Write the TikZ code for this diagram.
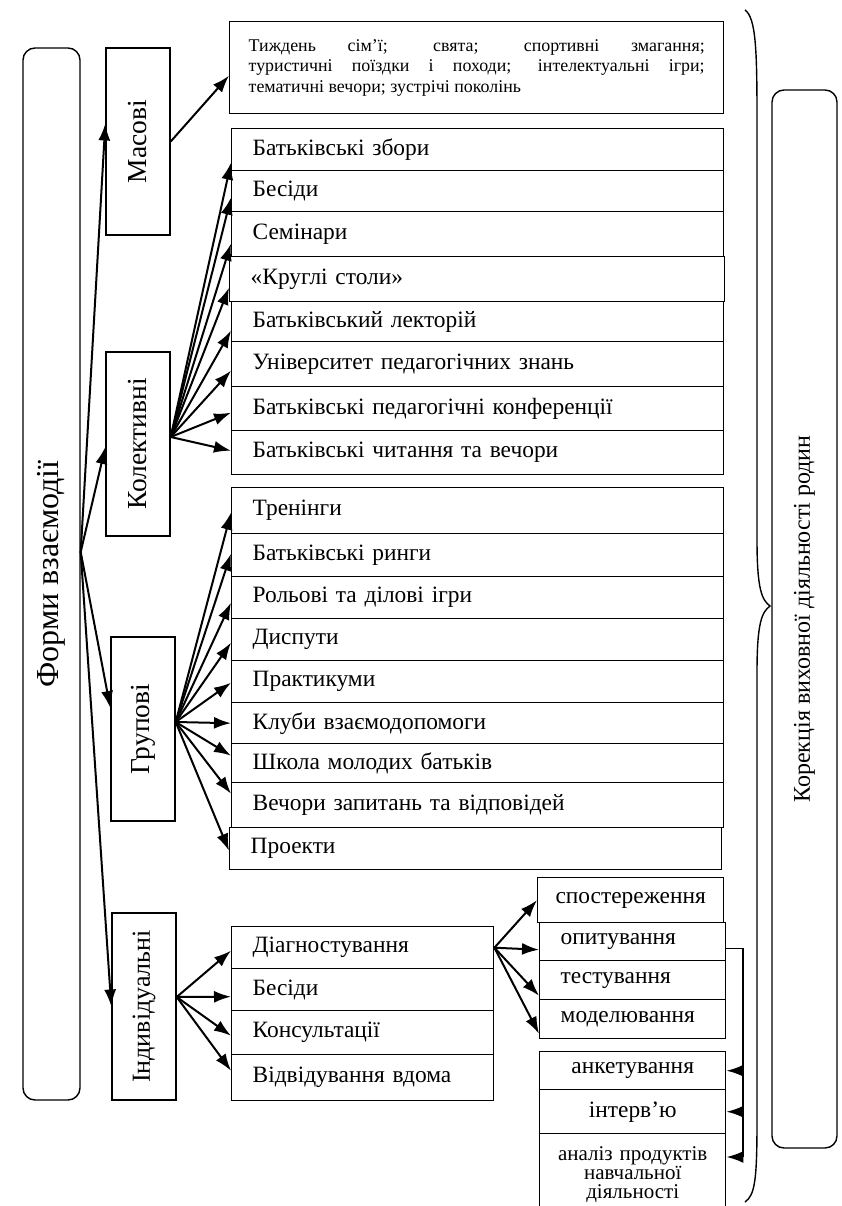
\documentclass[tikz,border=0pt]{standalone}
\usepackage{fontspec}
\setmainfont{Liberation Serif}
\usetikzlibrary{arrows.meta}

\begin{document}
\begin{tikzpicture}[x=1pt,y=-1pt,>={Latex[length=17pt,width=12pt]},
    lst/.style={draw,line width=1.4pt,anchor=north west,inner xsep=21pt,inner ysep=0pt,
      font=\fontsize{23.4}{28}\selectfont,align=left},
    biglst/.style={lst,text width=450pt},
    midlst/.style={lst,text width=220pt},
    sublst/.style={lst,text width=144pt},
    subc/.style={lst,inner xsep=8pt,text width=170pt,align=center},
    side/.style={draw,line width=1.4pt},
    frame/.style={draw,line width=1.4pt,rounded corners=12pt},
    arr/.style={->,line width=2pt}]
\tikzstyle{vlabel}=[rotate=90,font=\fontsize{27.5}{30}\selectfont]

	\useasboundingbox (0,0) rectangle (841,1206);

	% main frames
	\node[frame,minimum width=57pt,minimum height=1052pt,
		label={[vlabel,font=\fontsize{32}{36}\selectfont]center:Форми взаємодії}] (forms) at (51.5,574) {};
	\node[frame,minimum width=65pt,minimum height=1058pt,
		label={[vlabel,font=\fontsize{24}{28}\selectfont]center:Корекція виховної діяльності родин}] (korr) at (804.5,619) {};

	% kinds of forms
	\node[side,minimum width=64pt,minimum height=187pt,label={[vlabel]center:Масові}] (mas) at (138,141.5) {};
	\node[side,minimum width=64pt,minimum height=184pt,label={[vlabel]center:Колективні}] (kol) at (138,444) {};
	\node[side,minimum width=64pt,minimum height=184pt,label={[vlabel]center:Групові}] (grp) at (143,729) {};
	\node[side,minimum width=64pt,minimum height=187pt,label={[vlabel,font=\fontsize{26}{30}\selectfont]center:Індивідуальні}] (ind) at (144,1006.5) {};

	% mass forms
	\node[draw,line width=1.4pt,anchor=north west,minimum height=92pt,text width=456pt,inner xsep=19pt,
		align=justify,font=\fontsize{17.9}{20.5}\selectfont] (mtext) at (229,21)
		{Тиждень сім’ї; свята; спортивні змагання;\linebreak туристичні поїздки і походи; інтелектуальні ігри;\linebreak тематичні вечори; зустрічі поколінь};

	% collective forms
	\node[biglst,minimum height=42pt] (kz1) at (231,128) {Батьківські збори};
	\node[biglst,minimum height=41pt] (kz2) at (231,170) {Бесіди};
	\node[biglst,minimum height=45pt] (kz3) at (231,211) {Семінари};
	\node[biglst,minimum height=45pt,text width=453pt] (kz4) at (229,256) {«Круглі столи»};
	\node[biglst,minimum height=40pt] (kz5) at (231,301) {Батьківський лекторій};
	\node[biglst,minimum height=45pt] (kz6) at (231,341) {Університет педагогічних знань};
	\node[biglst,minimum height=44pt] (kz7) at (231,386) {Батьківські педагогічні конференції};
	\node[biglst,minimum height=44pt] (kz8) at (231,430) {Батьківські читання та вечори};

	% group forms
	\node[biglst,minimum height=46pt] (gr1) at (231,487) {Тренінги};
	\node[biglst,minimum height=43pt] (gr2) at (231,533) {Батьківські ринги};
	\node[biglst,minimum height=42pt] (gr3) at (231,576) {Рольові та ділові ігри};
	\node[biglst,minimum height=42pt] (gr4) at (231,618) {Диспути};
	\node[biglst,minimum height=42pt] (gr5) at (231,660) {Практикуми};
	\node[biglst,minimum height=41pt] (gr6) at (231,702) {Клуби взаємодопомоги};
	\node[biglst,minimum height=39pt] (gr7) at (231,743) {Школа молодих батьків};
	\node[biglst,minimum height=45pt] (gr8) at (231,782) {Вечори запитань та відповідей};
	\node[biglst,minimum height=42pt] (gr9) at (229,827) {Проекти};

	% individual forms
	\node[midlst,minimum height=42pt] (in1) at (231,926) {Діагностування};
	\node[midlst,minimum height=42pt] (in2) at (231,968) {Бесіди};
	\node[midlst,minimum height=44pt] (in3) at (231,1010) {Консультації};
	\node[midlst,minimum height=46pt] (in4) at (231,1054) {Відвідування вдома};

	% diagnostics
	\node[subc,minimum height=45pt] (sp1) at (537,877) {спостереження};
	\node[sublst,minimum height=38pt] (sp2) at (539,922) {опитування};
	\node[sublst,minimum height=39pt] (sp3) at (539,960) {тестування};
	\node[sublst,minimum height=39pt] (sp4) at (539,999) {моделювання};

	\node[subc,minimum height=38pt] (an1) at (539,1051) {анкетування};
	\node[subc,minimum height=44pt] (an2) at (539,1089) {інтерв’ю};
	\node[subc,minimum height=82pt,font=\fontsize{21}{19}\selectfont] (an3) at (539,1133)
		{аналіз продуктів\\навчальної\\діяльності};

	% brace
	\draw[line width=1.4pt] (745,10) .. controls (756,18) and (757,50) .. (757,120) -- (757,540)
		.. controls (757,590) and (762,600) .. (770,606) .. controls (762,612) and (757,622) .. (757,672)
		-- (757,1120) .. controls (757,1180) and (755,1195) .. (745,1202);

	% connectors
	\coordinate (fork) at ([yshift=22pt]forms.east);
	\coordinate (kfork) at ([yshift=7pt]kol.east);
	\coordinate (gfork) at ([yshift=7pt]grp.east);
	\coordinate (ifork) at ([yshift=9.5pt]ind.east);
	\coordinate (bus) at (743,1157);

	\path[arr]
		(fork) edge ([yshift=18pt]mas.west)
		(fork) edge ([yshift=-3pt]kol.west)
		(fork) edge ([yshift=21pt]grp.west)
		(fork) edge (ind.west)
		(mas.east) edge ([yshift=-8pt]mtext.west);

	\path[arr]
		(kfork) edge ([yshift=-13pt]kz1.west)
		(kfork) edge ([yshift=-6.5pt]kz2.west)
		(kfork) edge ([yshift=-9.5pt]kz3.west)
		(kfork) edge ([yshift=-8.5pt]kz4.west)
		(kfork) edge ([yshift=-9pt]kz5.west)
		(kfork) edge ([yshift=-6.5pt]kz6.west)
		(kfork) edge ([yshift=-4pt]kz7.west)
		(kfork) edge ([yshift=2pt]kz8.west);

	\path[arr]
		(gfork) edge ([yshift=-2pt]gr1.west)
		(gfork) edge ([yshift=1.5pt]gr2.west)
		(gfork) edge ([yshift=-5pt]gr3.west)
		(gfork) edge ([yshift=-3pt]gr4.west)
		(gfork) edge ([yshift=-1pt]gr5.west)
		(gfork) edge (gr6.west)
		(gfork) edge ([yshift=7.5pt]gr7.west)
		(gfork) edge ([yshift=11.5pt]gr8.west)
		(gfork) edge ([yshift=-2pt]gr9.west);

	\path[arr]
		(ifork) edge ([yshift=-3pt]in1.west)
		(ifork) edge ([yshift=-7pt]in2.west)
		(ifork) edge ([yshift=-3pt]in3.west)
		(ifork) edge ([yshift=7pt]in4.west);

	\path[arr]
		(in1.east) edge (sp1.west)
		(in1.east) edge ([yshift=-8pt]sp2.west)
		(in1.east) edge ([yshift=-15.5pt]sp3.west)
		(in1.east) edge ([yshift=-14.5pt]sp4.west);

	\draw[line width=1.2pt] ([yshift=-7pt]sp2.east) -| (bus);
	\path[arr]
		(bus |- an1.east) edge (an1.east)
		(bus |- an2.east) edge (an2.east)
		(bus) edge (an3.east |- bus);
\end{tikzpicture}
\end{document}
